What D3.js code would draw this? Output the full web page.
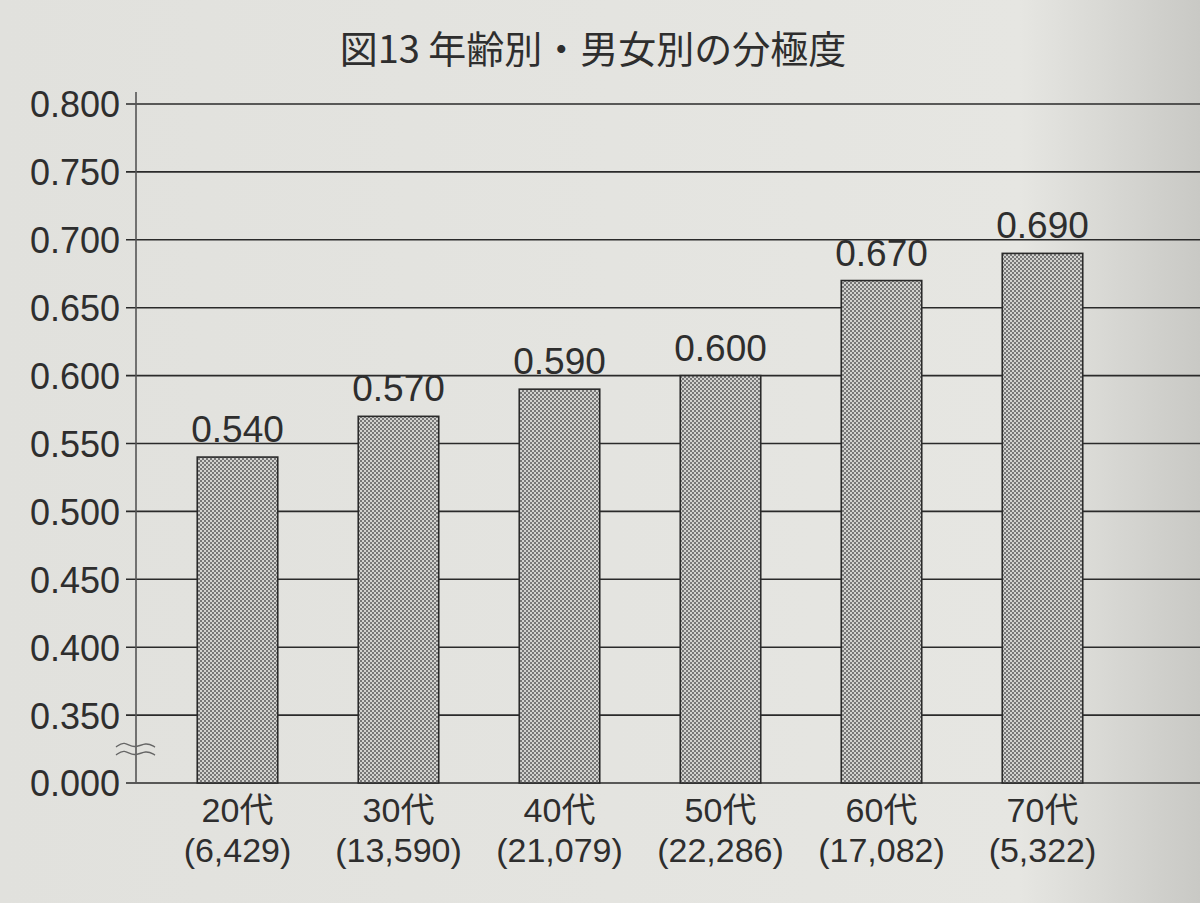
<!DOCTYPE html>
<html><head><meta charset="utf-8">
<script src="https://cdn.jsdelivr.net/npm/d3@7"></script>
<style>
html,body{margin:0;padding:0;background:#e3e3df;}
svg{display:block;}
text{font-family:"Liberation Sans","Noto Sans CJK JP",Arial,sans-serif;fill:#2e2e2e;}
</style></head>
<body>
<svg id="chart" width="1200" height="903"></svg>
<script>
const title = "図13 年齢別・男女別の分極度";
const categories = ["20代","30代","40代","50代","60代","70代"];
const counts = ["(6,429)","(13,590)","(21,079)","(22,286)","(17,082)","(5,322)"];
const values = [0.540,0.570,0.590,0.600,0.670,0.690];
const tickValues = [0.30,0.35,0.40,0.45,0.50,0.55,0.60,0.65,0.70,0.75,0.80];
const tickLabels = ["0.000","0.350","0.400","0.450","0.500","0.550","0.600","0.650","0.700","0.750","0.800"];

const svg = d3.select("#chart");
const W = 1200, H = 903;

const defs = svg.append("defs");
const bg = defs.append("linearGradient").attr("id","paper").attr("x1","0").attr("x2","1").attr("y1","0").attr("y2","0");
bg.append("stop").attr("offset","0").attr("stop-color","#e1e1dd");
bg.append("stop").attr("offset","0.85").attr("stop-color","#e6e6e2");
bg.append("stop").attr("offset","1").attr("stop-color","#c9c9c5");
const pat = defs.append("pattern").attr("id","dots").attr("patternUnits","userSpaceOnUse").attr("width",4).attr("height",4);
pat.append("rect").attr("width",4).attr("height",4).attr("fill","#d2d2cf");
pat.append("rect").attr("x",0).attr("y",0).attr("width",2).attr("height",2).attr("fill","#777");
pat.append("rect").attr("x",2).attr("y",2).attr("width",2).attr("height",2).attr("fill","#777");

svg.append("rect").attr("width",W).attr("height",H).attr("fill","url(#paper)");

const axisX = 136;
const y = d3.scaleLinear().domain([0.30,0.80]).range([783,104]);
const x = d3.scaleBand().domain(categories).range([157,1123]).paddingInner(0.5).paddingOuter(0.25);

// title
svg.append("text").attr("x",593).attr("y",63).attr("text-anchor","middle")
  .style("font-size","38px").style("font-family","'Noto Sans CJK JP',sans-serif").text(title);

// gridlines
svg.append("g").selectAll("line").data(tickValues).join("line")
  .attr("x1",126).attr("x2",W).attr("y1",d=>y(d)).attr("y2",d=>y(d))
  .attr("stroke","#2a2a2a").attr("stroke-width",1.6);

// y axis with tick labels
const yAxis = d3.axisLeft(y).tickValues(tickValues).tickSize(0).tickPadding(16)
  .tickFormat((d,i)=>tickLabels[i]);
const gy = svg.append("g").attr("transform",`translate(${axisX},0)`).call(yAxis);
gy.select(".domain").remove();
gy.selectAll("text").style("font-size","36px").attr("fill","#333").attr("dy","0.36em")
  .attr("font-family","'Liberation Sans',Arial,sans-serif");
svg.append("line").attr("x1",axisX).attr("x2",axisX).attr("y1",92).attr("y2",y(0.30))
  .attr("stroke","#555").attr("stroke-width",1.6);

// break marks
const brkY = (y(0.30)+y(0.35))/2 + 0;
const wave = d3.line().curve(d3.curveBasis);
[-4,4].forEach(off=>{
  svg.append("path").attr("d",wave([[116,brkY+off+2],[124,brkY+off-4],[134,brkY+off+4],[146,brkY+off-3],[155,brkY+off+2]]))
    .attr("fill","none").attr("stroke","#666").attr("stroke-width",1.4);
});

// bars
svg.append("g").selectAll("rect").data(values).join("rect")
  .attr("x",(d,i)=>x(categories[i])).attr("width",x.bandwidth())
  .attr("y",d=>y(d)).attr("height",d=>y(0.30)-y(d))
  .attr("fill","url(#dots)").attr("stroke","#2a2a2a").attr("stroke-width",1.6);

// value labels
svg.append("g").selectAll("text").data(values).join("text")
  .attr("x",(d,i)=>x(categories[i])+x.bandwidth()/2).attr("y",d=>y(d)-15)
  .attr("text-anchor","middle").style("font-size","37px").text(d=>d3.format(".3f")(d));

// x labels
const gx = svg.append("g");
gx.selectAll("text.cat").data(categories).join("text").attr("class","cat")
  .attr("x",d=>x(d)+x.bandwidth()/2).attr("y",822).attr("text-anchor","middle")
  .style("font-size","34px").text(d=>d);
gx.selectAll("text.cnt").data(counts).join("text").attr("class","cnt")
  .attr("x",(d,i)=>x(categories[i])+x.bandwidth()/2).attr("y",862).attr("text-anchor","middle")
  .style("font-size","34px").text(d=>d);
</script>
</body></html>
